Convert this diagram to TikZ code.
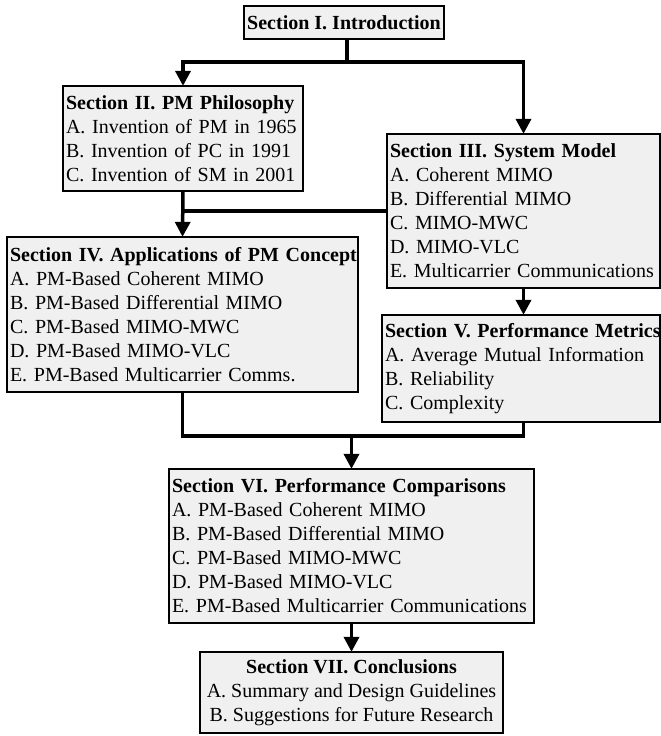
\documentclass[tikz,border=0pt]{standalone}
\usepackage{fontspec}
\setmainfont{Liberation Serif}
\usetikzlibrary{arrows.meta}
\newcommand\myboxfont{\fontsize{20}{24}\selectfont\frenchspacing\hyphenpenalty=10000\relax}
\newcommand\oneline[1]{\mbox{#1}}
\begin{document}
\begin{tikzpicture}[x=1pt,y=-1pt,
  box/.style={draw=black, line width=1.3pt, fill=black!6, inner xsep=3pt, inner ysep=0pt,
    font=\myboxfont, align=left},
  conn/.style={line width=3.5pt},
  arr/.style={line width=3.5pt, -{Triangle[length=15pt,width=15pt]}, shorten >=-0.5pt}]
\useasboundingbox (0,0) rectangle (661,736);
\node[box, align=center, minimum width=200pt, minimum height=33pt] (s1) at (344,22.5) {\textbf{Section I. Introduction}};
\node[box, text width=234pt, minimum height=105pt] (s2) at (183,138.5) {\oneline{\textbf{Section II. PM Philosophy}}\\\oneline{A. Invention of PM in 1965}\\\oneline{B. Invention of PC in 1991}\\\oneline{C. Invention of SM in 2001}};
\node[box, text width=267pt, minimum height=154pt] (s3) at (523.5,211) {\oneline{\textbf{Section III. System Model}}\\\oneline{A. Coherent MIMO}\\\oneline{B. Differential MIMO}\\\oneline{C. MIMO-MWC}\\\oneline{D. MIMO-VLC}\\\oneline{E. Multicarrier Communications}};
\node[box, text width=345pt, minimum height=155pt] (s4) at (182.5,314.5) {\oneline{\textbf{Section IV. Applications of PM Concept}}\\\oneline{A. PM-Based Coherent MIMO}\\\oneline{B. PM-Based Differential MIMO}\\\oneline{C. PM-Based MIMO-MWC}\\\oneline{D. PM-Based MIMO-VLC}\\\oneline{E. PM-Based Multicarrier Comms.}};
\node[box, text width=272pt, minimum height=107pt] (s5) at (521,368.5) {\oneline{\textbf{Section V. Performance Metrics}}\\\oneline{A. Average Mutual Information}\\\oneline{B. Reliability}\\\oneline{C. Complexity}};
\node[box, text width=359pt, minimum height=154pt] (s6) at (351.5,546) {\oneline{\textbf{Section VI. Performance Comparisons}}\\\oneline{A. PM-Based Coherent MIMO}\\\oneline{B. PM-Based Differential MIMO}\\\oneline{C. PM-Based MIMO-MWC}\\\oneline{D. PM-Based MIMO-VLC}\\\oneline{E. PM-Based Multicarrier Communications}};
\node[box, align=center, minimum width=303pt, minimum height=81pt] (s7) at (351.5,692.5) {\textbf{Section VII. Conclusions}\\A. Summary and Design Guidelines\\B. Suggestions for Future Research};
\coordinate (j1) at (347,62);
\coordinate (j2) at (351.5,436);
\draw[conn] (s1.south -| j1) -- (j1);
\draw[arr] (j1) -| (s2.north);
\draw[arr] (j1) -| (s3.north);
\draw[arr] (s2.south) -- (s4.north);
\draw[conn] (s3.west) -- (s3.west -| s2.south);
\draw[arr] (s3.south) -- (s3.south |- s5.north);
\draw[conn] (s4.south) |- (j2);
\draw[conn] (s3.south |- s5.south) |- (j2);
\draw[arr] (j2) -- (s6.north);
\draw[arr] (s6.south) -- (s7.north);
\end{tikzpicture}
\end{document}
